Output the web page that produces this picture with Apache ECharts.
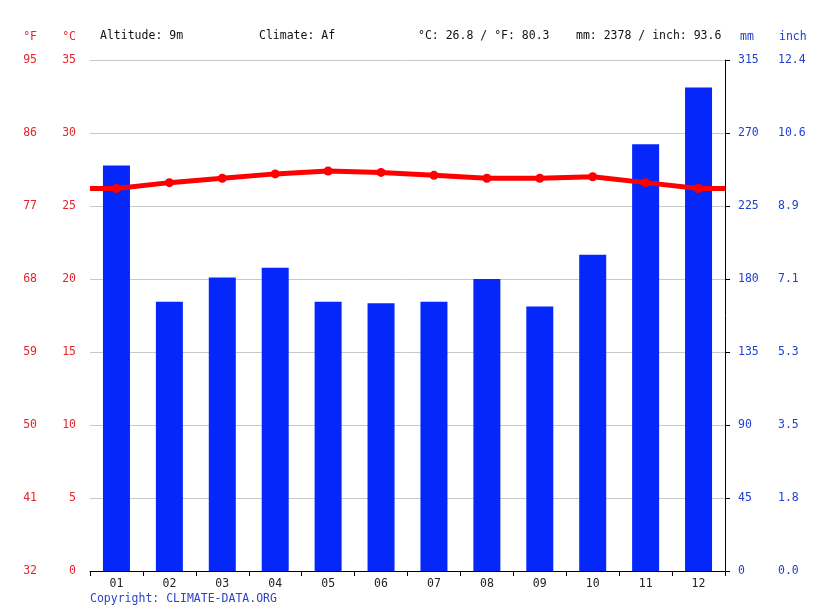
<!DOCTYPE html>
<html><head><meta charset="utf-8">
<script src="https://cdn.jsdelivr.net/npm/echarts@6/dist/echarts.min.js"></script>
<style>html,body{margin:0;padding:0;background:#fff}#c{width:815px;height:611px}</style>
</head><body><div id="c"></div>
<script>
var months = ['01','02','03','04','05','06','07','08','09','10','11','12'];
var precipMm = [250, 166, 181, 187, 166, 165, 166, 180, 163, 195, 263, 298];
var tempC = [26.2, 26.6, 26.9, 27.2, 27.4, 27.3, 27.1, 26.9, 26.9, 27.0, 26.6, 26.2];
var fLabels = ['32','41','50','59','68','77','86','95'];
var cLabels = ['0','5','10','15','20','25','30','35'];
var mmLabels = ['0','45','90','135','180','225','270','315'];
var inchLabels = ['0.0','1.8','3.5','5.3','7.1','8.9','10.6','12.4'];

var FONT = 'DejaVu Sans Mono';
var FS = 11.5;
var RED = '#e8232b', BLUE = '#1f3fd1';

var lineData = [{value:[0,tempC[0]],symbol:'none'}];
tempC.forEach(function(v,i){ lineData.push({value:[i+0.5,v]}); });
lineData.push({value:[12,tempC[tempC.length-1]],symbol:'none'});

var chart = echarts.init(document.getElementById('c'));
chart.setOption({
  animation:false,
  textStyle:{fontFamily:FONT},
  grid:{left:90,right:90,top:60,bottom:40,containLabel:false},
  xAxis:[
    {type:'category',data:months,boundaryGap:true,
     axisLine:{lineStyle:{color:'#000'}},
     axisTick:{show:true,alignWithLabel:false,length:5,lineStyle:{color:'#000'}},
     axisLabel:{color:'#222',fontFamily:FONT,fontSize:FS,margin:7},
     splitLine:{show:false}},
    {type:'value',min:0,max:12,show:false}
  ],
  yAxis:[
    {type:'value',min:0,max:35,interval:5,position:'left',
     name:'°C',nameLocation:'end',nameGap:17,
     nameTextStyle:{color:RED,fontFamily:FONT,fontSize:FS,align:'right',padding:[0,14,0,0]},
     axisLine:{show:false},axisTick:{show:false},
     axisLabel:{color:RED,fontFamily:FONT,fontSize:FS,margin:14,formatter:function(v,i){return cLabels[i];}},
     splitLine:{show:true,lineStyle:{color:'#c8c8c8'}}},
    {type:'value',min:0,max:35,interval:5,position:'left',offset:40,
     name:'°F',nameLocation:'end',nameGap:17,
     nameTextStyle:{color:RED,fontFamily:FONT,fontSize:FS,align:'right',padding:[0,13,0,0]},
     axisLine:{show:false},axisTick:{show:false},
     axisLabel:{color:RED,fontFamily:FONT,fontSize:FS,margin:13,formatter:function(v,i){return fLabels[i];}},
     splitLine:{show:false}},
    {type:'value',min:0,max:315,interval:45,position:'right',
     name:'mm',nameLocation:'end',nameGap:17,
     nameTextStyle:{color:BLUE,fontFamily:FONT,fontSize:FS,align:'left',padding:[0,0,0,15]},
     axisLine:{show:true,lineStyle:{color:'#000'}},axisTick:{show:true,length:5,lineStyle:{color:'#000'}},
     axisLabel:{color:BLUE,fontFamily:FONT,fontSize:FS,margin:13,formatter:function(v,i){return mmLabels[i];}},
     splitLine:{show:false}},
    {type:'value',min:0,max:315,interval:45,position:'right',offset:40,
     name:'inch',nameLocation:'end',nameGap:17,
     nameTextStyle:{color:BLUE,fontFamily:FONT,fontSize:FS,align:'left',padding:[0,0,0,14]},
     axisLine:{show:false},axisTick:{show:false},
     axisLabel:{color:BLUE,fontFamily:FONT,fontSize:FS,margin:13,formatter:function(v,i){return inchLabels[i];}},
     splitLine:{show:false}}
  ],
  series:[
    {type:'bar',xAxisIndex:0,yAxisIndex:2,data:precipMm,barWidth:27,
     itemStyle:{color:'#0527fa'},z:2},
    {type:'line',xAxisIndex:1,yAxisIndex:0,data:lineData,
     symbol:'circle',symbolSize:9,
     lineStyle:{color:'#ff0000',width:5},itemStyle:{color:'#ff0000'},z:3}
  ],
  graphic:[
    {type:'text',left:100,top:30,style:{text:'Altitude: 9m',fill:'#111',font:FS+'px "DejaVu Sans Mono"'}},
    {type:'text',left:259,top:30,style:{text:'Climate: Af',fill:'#111',font:FS+'px "DejaVu Sans Mono"'}},
    {type:'text',left:418,top:30,style:{text:'°C: 26.8 / °F: 80.3',fill:'#111',font:FS+'px "DejaVu Sans Mono"'}},
    {type:'text',left:576,top:30,style:{text:'mm: 2378 / inch: 93.6',fill:'#111',font:FS+'px "DejaVu Sans Mono"'}},
    {type:'text',left:90,top:593,style:{text:'Copyright: CLIMATE-DATA.ORG',fill:'#2a44c8',font:FS+'px "DejaVu Sans Mono"'}}
  ]
});
</script></body></html>
